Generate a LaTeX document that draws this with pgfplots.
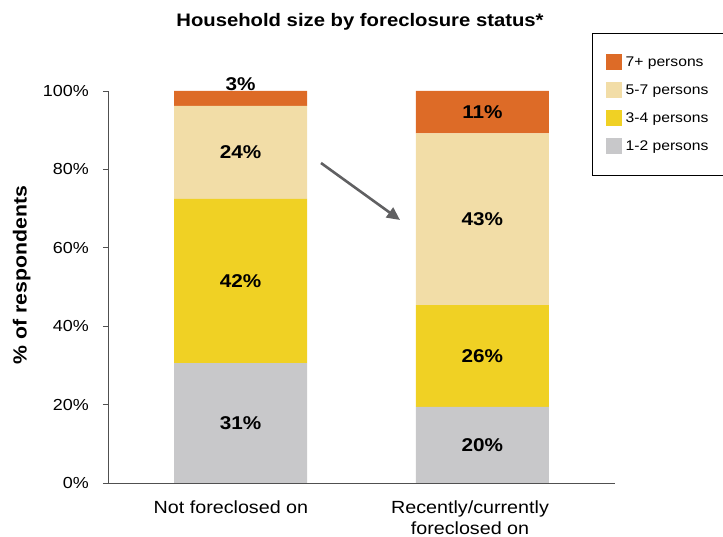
\documentclass[border=0pt]{standalone}
\usepackage{fontspec}
\setmainfont{Liberation Sans}[FakeStretch=1.12]
\usepackage{pgfplots}
\pgfplotsset{compat=1.18}
\usepackage{pgfplotstable}
\usetikzlibrary{arrows.meta}

\definecolor{cOrange}{RGB}{221,107,39}
\definecolor{cBeige}{RGB}{242,221,167}
\definecolor{cYellow}{RGB}{240,209,36}
\definecolor{cGray}{RGB}{200,200,202}
\definecolor{cArrow}{RGB}{96,96,98}
\definecolor{cAxis}{RGB}{80,80,80}

% segment heights (%), label, extra shift of the label (bp)
\pgfplotstableread{
x     y    lbl  dy
0.523 30.6 31\% 0
1.477 19.4 20\% 0
}\tabOneTwo
\pgfplotstableread{
x     y    lbl  dy
0.523 41.9 42\% 0
1.477 26.0 26\% 0
}\tabThreeFour
\pgfplotstableread{
x     y    lbl  dy
0.523 23.7 24\% 0
1.477 43.8 43\% 0
}\tabFiveSeven
\pgfplotstableread{
x     y    lbl  dy
0.523 3.8  3\%  14.5
1.477 10.8 11\% 0
}\tabSevenPlus

\newcommand{\legtxt}[1]{\makebox[120bp][l]{#1}}

\begin{document}
\begin{tikzpicture}
\useasboundingbox (0bp,0bp) rectangle (723bp,537bp);
\begin{axis}[
  at={(108bp,54bp)}, anchor=south west,
  scale only axis, width=507bp, height=392bp,
  ybar stacked, bar width=0.525,
  xmin=0, xmax=2, ymin=0, ymax=100,
  axis lines=left,
  axis line style={-, cAxis, line width=0.9bp},
  tick style={cAxis, line width=0.9bp},
  tick align=outside,
  major tick length=5bp,
  ytick={0,20,40,60,80,100},
  yticklabels={0\%,20\%,40\%,60\%,80\%,100\%},
  yticklabel style={font=\fontsize{16bp}{19bp}\selectfont, inner xsep=0pt, xshift=-14bp},
  xtick={0.485,1.428},
  xticklabels={Not foreclosed on, Recently/currently\\foreclosed on},
  xticklabel style={font=\fontsize{17.6bp}{21bp}\selectfont, align=center, yshift=-9bp},
  x tick style={draw=none},
  minor xtick={1,2},
  minor x tick style={cAxis, line width=0.9bp},
  minor tick length=5bp,
  ylabel={\% of respondents},
  ylabel style={font=\bfseries\fontsize{19bp}{22bp}\selectfont,
    at={(axis description cs:-0.17,0.531)}, anchor=center, rotate=0},
  point meta=explicit symbolic,
  nodes near coords,
  visualization depends on={\thisrow{dy} \as \dy},
  every node near coord/.append style={anchor=center,
    font=\bfseries\fontsize{18.5bp}{22bp}\selectfont,
    yshift={\dy}},
  reverse legend,
  legend cell align=left,
  legend image code/.code={\fill[#1] (3bp,-8bp) rectangle (19bp,8bp);
    \path (21bp,0bp);},
  legend style={at={(axis description cs:0.955,1.148)}, anchor=north west,
    draw=black, line width=0.8bp, fill=white,
    font=\fontsize{14bp}{17bp}\selectfont,
    inner xsep=13bp, inner ysep=21bp, row sep=12bp},
]
\addplot[draw=none, fill=cGray]   table[x=x, y=y, meta=lbl] {\tabOneTwo};
\addplot[draw=none, fill=cYellow] table[x=x, y=y, meta=lbl] {\tabThreeFour};
\addplot[draw=none, fill=cBeige]  table[x=x, y=y, meta=lbl] {\tabFiveSeven};
\addplot[draw=none, fill=cOrange] table[x=x, y=y, meta=lbl] {\tabSevenPlus};
\legend{\legtxt{1-2 persons}, \legtxt{3-4 persons}, \legtxt{5-7 persons}, \legtxt{7+ persons}}
\end{axis}
\node[font=\bfseries\fontsize{18.1bp}{21bp}\selectfont] at (360bp,515bp) {Household size by foreclosure status*};
\draw[cArrow, line width=2.6bp, -{Triangle[length=13bp, width=12bp]}] (321bp,374bp) -- (400bp,317bp);
\end{tikzpicture}
\end{document}
